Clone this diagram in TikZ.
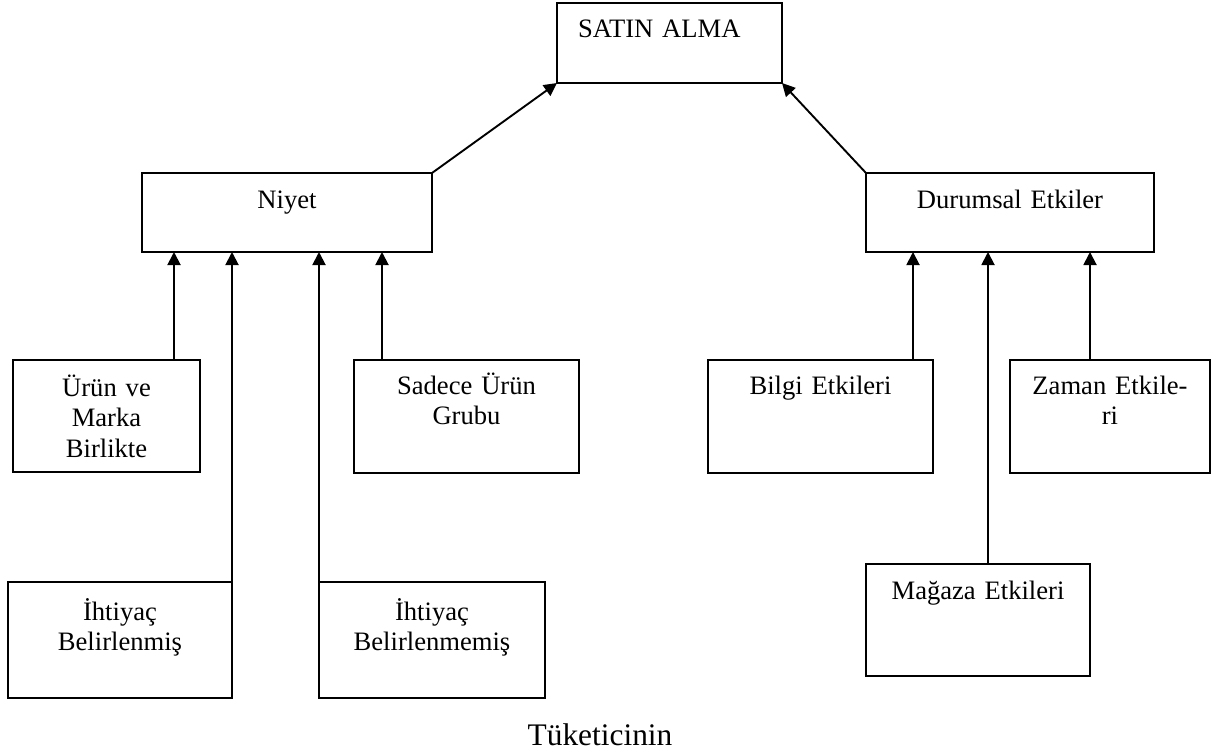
\documentclass[tikz,border=0pt]{standalone}
\usepackage{fontspec}
\setmainfont{Liberation Serif}
\usetikzlibrary{arrows.meta}

\tikzset{
  kutu/.style={draw, line width=0.75pt, inner xsep=0pt, inner ysep=0pt, outer sep=0pt,
    align=center, anchor=north west, font=\fontsize{13.3}{15.3}\selectfont},
  ok/.style={line width=0.95pt, -{Triangle[length=6.5pt,width=6.5pt]}}
}

\begin{document}
\begin{tikzpicture}[x=0.5pt,y=-0.5pt]
		\useasboundingbox (0,0) rectangle (1226,755);
		%Top
		\node[kutu, text width=91.5pt, inner xsep=10.5pt, align=left, text height=17.5pt, text depth=22.5pt] (alma) at (557,3) {SATIN ALMA};
		%Level 1
		\node[kutu, text width=145pt, text height=17.5pt, text depth=22pt] (niyet) at (142,173) {Niyet};
		\node[kutu, text width=144pt, text height=17.5pt, text depth=22pt] (durum) at (866,173) {Durumsal Etkiler};
		\draw[ok] (niyet.north east)--(alma.south west);
		\draw[ok] (durum.north west)--(alma.south east);
		%Level 2
		\node[kutu, text width=93.5pt, text height=18pt, text depth=38pt] (urun) at (13,360) {Ürün ve\\Marka\\Birlikte};
		\node[kutu, text width=112.5pt, text height=17pt, text depth=39.5pt] (sadece) at (354,360) {Sadece Ürün\\Grubu};
		\node[kutu, text width=112.5pt, text height=17pt, text depth=39.5pt] (bilgi) at (708,360) {Bilgi Etkileri};
		\node[kutu, text width=100pt, text height=17pt, text depth=39.5pt] (zaman) at (1010,360) {Zaman Etkile-\\ri};
		\draw[ok] (174,0 |- urun.north)--(174,0 |- niyet.south);
		\draw[ok] (382,0 |- sadece.north)--(382,0 |- niyet.south);
		\draw[ok] (913,0 |- bilgi.north)--(913,0 |- durum.south);
		\draw[ok] (1090,0 |- zaman.north)--(1090,0 |- durum.south);
		%Level 3
		\node[kutu, text width=112pt, text height=19pt, text depth=39pt] (ihtiyac1) at (8,582) {İhtiyaç\\Belirlenmiş};
		\node[kutu, text width=113pt, text height=19pt, text depth=39pt] (ihtiyac2) at (319,582) {İhtiyaç\\Belirlenmemiş};
		\node[kutu, text width=112pt, text height=17.5pt, text depth=38.5pt] (magaza) at (866,564) {Mağaza Etkileri};
		\draw[ok] (ihtiyac1.north east)--(ihtiyac1.north east |- niyet.south);
		\draw[ok] (ihtiyac2.north west)--(ihtiyac2.north west |- niyet.south);
		\draw[ok] (988,0 |- magaza.north)--(988,0 |- durum.south);
		%Caption
		\node[anchor=base, font=\fontsize{15.7}{18}\selectfont] (tuketici) at (600,745) {Tüketicinin};
\end{tikzpicture}
\end{document}
